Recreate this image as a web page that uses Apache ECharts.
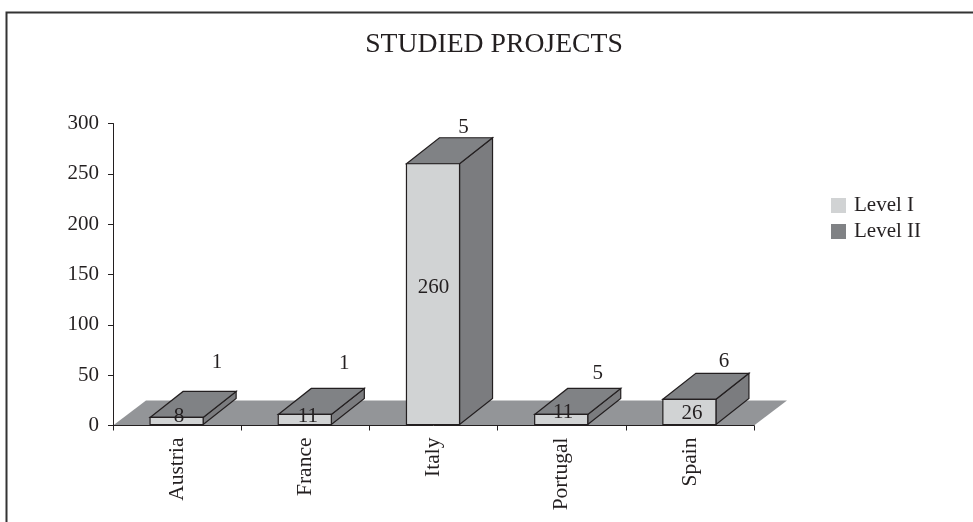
<!DOCTYPE html>
<html><head><meta charset="utf-8">
<style>html,body{margin:0;padding:0;background:#fff}#c{width:973px;height:522px}</style>
<script src="https://cdn.jsdelivr.net/npm/echarts@6/dist/echarts.min.js"></script>
</head><body><div id="c"></div>
<script>
const categories = ['Austria', 'France', 'Italy', 'Portugal', 'Spain'];
const levelI = [8, 11, 260, 11, 26];
const levelII = [1, 1, 5, 5, 6];
const yTicks = [0, 50, 100, 150, 200, 250, 300];

// drawing style (not data)
const INK = '#231f20', FRONT = '#d1d3d4', DARK = '#808285', SIDE = '#7b7c7f', FLOOR = '#939598';
const FONT = '"Liberation Serif","Times New Roman",serif';
const DX = 33, DY = -26, BAR = 0.414;
const nudgeI = [[2,-1],[2.5,2],[0,124],[1.5,-2],[2,14]];
const nudgeII = [[40,-29],[39,-25],[30,-10],[36,-15],[34,-12]];

const chart = echarts.init(document.getElementById('c'), null, {renderer:'canvas'});
const sty = (fill) => ({fill, stroke: INK, lineWidth: 1.2});

function box(api){
  const i = api.value(0), v = api.value(1);
  const c = api.coord([i, v]), base = api.coord([i, 0]);
  const w = api.size([1, 0])[0] * BAR;
  return {l: c[0] - w/2 - 0.5, r: c[0] + w/2 - 0.5, t: c[1], b: base[1] - 1, cx: c[0], i};
}
const option = {
  animation: false,
  backgroundColor: '#fff',
  title: {text: 'STUDIED PROJECTS', left: 489, top: 26, textAlign: 'center',
    textStyle: {fontFamily: FONT, fontWeight: 'normal', fontSize: 27.7, color: INK}},
  legend: {orient: 'vertical', left: 831, top: 195, padding: 0, itemWidth: 15, itemHeight: 15, itemGap: 5,
    selectedMode: false, data: ['Level I', 'Level II'], icon: 'rect',
    textStyle: {fontFamily: FONT, fontSize: 21, color: INK, padding: [0,0,0,3]}},
  grid: {left: 113, right: 219, top: 123.5, bottom: 96.5, containLabel: false},
  xAxis: {type: 'category', data: categories, boundaryGap: true, z: 2,
    axisLine: {lineStyle: {color: INK, width: 1}},
    axisTick: {show: true, alignWithLabel: false, length: 5, lineStyle: {color: INK}},
    axisLabel: {rotate: 90, fontFamily: FONT, fontSize: 21.5, color: INK, margin: 12, interval: 0, padding: [0,0,3,0]}},
  yAxis: {type: 'value', min: 0, max: 300, interval: 50, z: 2,
    axisLine: {show: true, lineStyle: {color: INK, width: 1}},
    axisTick: {show: true, length: 5, lineStyle: {color: INK}},
    splitLine: {show: false},
    axisLabel: {fontFamily: FONT, fontSize: 21, color: INK, margin: 14,
      formatter: v => yTicks.includes(v) ? String(v) : ''}},
  series: [
    {type: 'custom', name: 'floor', silent: true, z: 1, coordinateSystem: 'cartesian2d',
      data: [[0, 0]], encode: {x: 0, y: 1},
      renderItem(p, api){
        const a = api.coord([0, 0]), half = api.size([1, 0])[0] / 2;
        const x0 = a[0] - half, x1 = x0 + half * 2 * categories.length, y = a[1];
        return {type: 'polygon', shape: {points: [[x0,y],[x0+DX,y-25],[x1+DX,y-25],[x1,y]]},
          style: {fill: FLOOR, stroke: 'none'}};
      }},
    {type: 'custom', name: 'Level II', z: 3, itemStyle: {color: DARK},
      data: categories.map((_, i) => [i, levelI[i], levelII[i]]), encode: {x: 0, y: 1},
      renderItem(p, api){
        const g = box(api);
        return {type: 'group', children: [
          {type: 'polygon', shape: {points: [[g.r,g.t],[g.r+DX,g.t+DY],[g.r+DX,g.b+DY],[g.r,g.b]]}, style: sty(SIDE)},
          {type: 'polygon', shape: {points: [[g.l,g.t],[g.l+DX,g.t+DY],[g.r+DX,g.t+DY],[g.r,g.t]]}, style: sty(DARK)},
          {type: 'text', z2: 50, style: {text: String(api.value(2)), x: g.cx + nudgeII[g.i][0], y: g.t + DY + nudgeII[g.i][1],
            align: 'center', verticalAlign: 'middle', font: '21px ' + FONT, fill: INK}}
        ]};
      }},
    {type: 'custom', name: 'Level I', z: 4, itemStyle: {color: FRONT},
      data: categories.map((_, i) => [i, levelI[i]]), encode: {x: 0, y: 1},
      renderItem(p, api){
        const g = box(api);
        return {type: 'group', children: [
          {type: 'rect', shape: {x: g.l, y: g.t, width: g.r-g.l, height: g.b-g.t}, style: sty(FRONT)},
          {type: 'text', z2: 50, style: {text: String(api.value(1)), x: g.cx + nudgeI[g.i][0], y: g.t + nudgeI[g.i][1],
            align: 'center', verticalAlign: 'middle', font: '21px ' + FONT, fill: INK}}
        ]};
      }}
  ],
  graphic: [{type: 'polyline', silent: true, z: 100,
    shape: {points: [[6.5,522],[6.5,12.5],[973,12.5]]},
    style: {fill: 'none', stroke: '#333', lineWidth: 2}}]
};
chart.setOption(option);
</script></body></html>
